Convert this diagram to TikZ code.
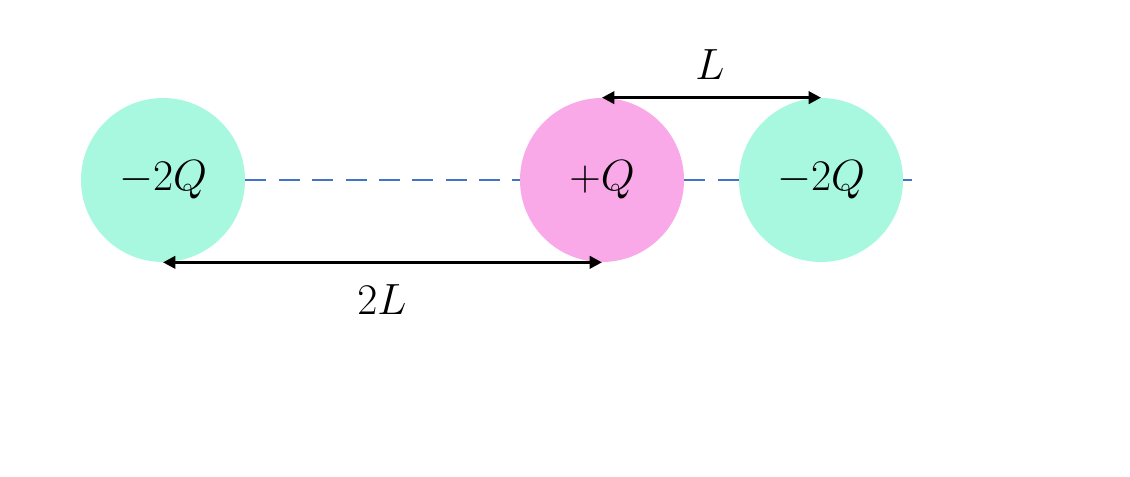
\documentclass[tikz,border=0pt]{standalone}
\usepackage{amsmath}
\usetikzlibrary{arrows.meta,positioning}
\definecolor{mint}{HTML}{A8F8E0}
\definecolor{pinkq}{HTML}{F9A8E8}
\definecolor{axisblue}{HTML}{4472C4}
\begin{document}
\begin{tikzpicture}
\tikzset{
    charge/.style={
       circle,
       minimum size = 3.28cm,
       inner sep = 0pt,
       font = \fontsize{24}{28}\selectfont
    },
   dist/.style={
     {Triangle[length=7pt,width=7pt]}-{Triangle[length=7pt,width=7pt]},
     line width = 1.6pt
   },
   dist label/.style={
     font = \fontsize{24}{28}\selectfont
   }
}
%
\useasboundingbox (0,0) rectangle (22.6,9.52);

\coordinate (axisend) at (18.24,5.92);
\node[charge, fill=mint] (qleft) at (3.26,5.92) {$-2Q$};
\node[charge, fill=pinkq] (qmid) at (12.04,5.92) {$+Q$};
\node[charge, fill=mint] (qright) at (16.42,5.92) {$-2Q$};

\begin{scope}[on background layer/.style={}]
\draw[axisblue, line width=1pt, dash pattern=on 12pt off 7pt] (qleft.east) -- (qmid.west);
\draw[axisblue, line width=1pt, dash pattern=on 12pt off 7pt] (qmid.east) -- (qright.west);
\draw[axisblue, line width=1pt, dash pattern=on 12pt off 7pt] (qright.east) -- (axisend);
\end{scope}

\draw[dist] (qmid.north) -- (qmid.north -| qright) coordinate (topend);
\node[dist label] (lbltop) at (14.2,8.22) {$L$};
\draw[dist] (qleft.south) -- (qmid.south);
\node[dist label] (lblbot) at (7.64,3.52) {$2L$};
\end{tikzpicture}
\end{document}
